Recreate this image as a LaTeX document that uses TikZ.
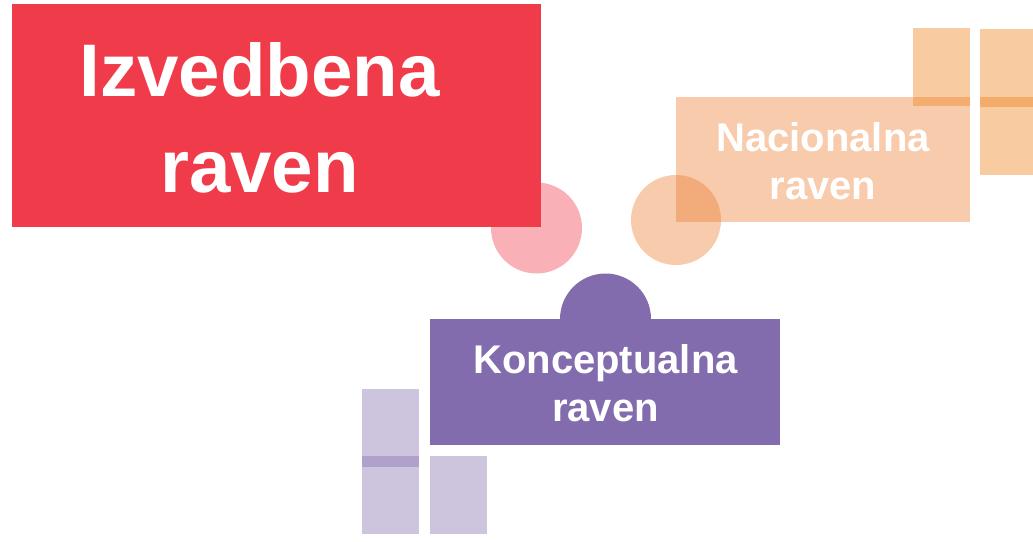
\documentclass[tikz,border=0pt]{standalone}
\usepackage{fontspec}
\setmainfont{Liberation Sans}
\definecolor{cred}{HTML}{F03C4A}
\definecolor{cpurple}{HTML}{826CAD}
\definecolor{corange}{HTML}{EB7D30}
\definecolor{cgold}{HTML}{EF8622}
\tikzset{
  lbl/.style={text=white, align=center, inner sep=0pt, anchor=base},
  big/.style={lbl, font=\fontsize{74.5}{96}\selectfont\bfseries},
  small/.style={lbl, font=\fontsize{40}{48}\selectfont\bfseries},
  pale/.style={fill opacity=0.4},
  gold/.style={fill=cgold, fill opacity=0.43},
  lilac/.style={fill=cpurple, fill opacity=0.4}
}
\begin{document}
\begin{tikzpicture}[x=1pt,y=-1pt]
\useasboundingbox (0,0) rectangle (1033,541);
% red group
\fill[cred, pale] (536.5,228) circle (45.5);
\fill[cred] (12,4) rectangle (541,227);
\node[big] (izv) at (259.5,192) {Izvedbena\\raven};
% orange group
\fill[corange, pale] (676,220) circle (45);
\fill[corange, pale] (676,97) rectangle (970,222);
\node[small] (nac) at (823,199) {Nacionalna\\raven};
\fill[gold] (913,28) rectangle (970,106);
\fill[gold] (980,29) rectangle (1040,107);
\fill[gold] (980,97) rectangle (1040,175);
% purple group
\fill[cpurple] (605.5,319) circle (45.5);
\fill[cpurple] (430,319) rectangle (780,445);
\node[small] (kon) at (605.5,421) {Konceptualna\\raven};
\fill[lilac] (362,389) rectangle (419,467);
\fill[lilac] (362,456) rectangle (419,534);
\fill[lilac] (430,456) rectangle (487,534);
\end{tikzpicture}
\end{document}
